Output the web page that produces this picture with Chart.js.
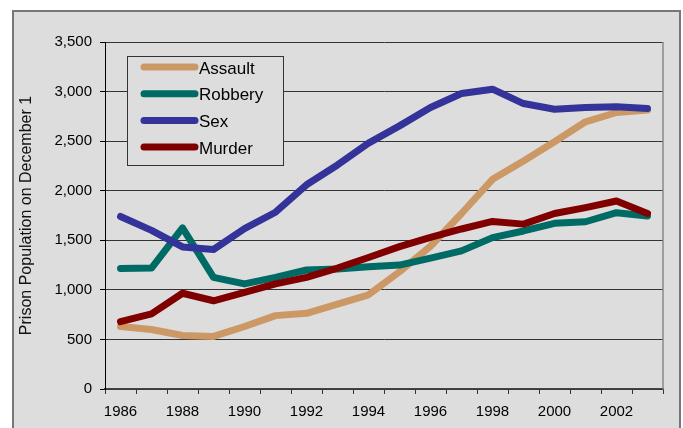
<!DOCTYPE html>
<html>
<head>
<meta charset="utf-8">
<script src="https://cdn.jsdelivr.net/npm/chart.js@4/dist/chart.umd.min.js"></script>
<style>
  body { margin: 0; background: #fff; }
  #frame {
    position: absolute; left: 12px; top: 10px;
    width: 665px; height: 440px;
    border: 2px solid #777; background: #dddddd;
  }
  #chart { position: absolute; left: 0; top: 0; }
</style>
</head>
<body>
<div id="frame"></div>
<canvas id="chart" width="683" height="428"></canvas>
<script>
// ===== DATA =====
const years = ["1986", "1987", "1988", "1989", "1990", "1991", "1992", "1993", "1994",
               "1995", "1996", "1997", "1998", "1999", "2000", "2001", "2002", "2003"];
const assault = [630, 600, 540, 530, 630, 740, 763, 857, 950, 1183, 1440, 1770, 2115, 2300, 2494, 2695, 2789, 2813];
const robbery = [1216, 1220, 1625, 1126, 1060, 1126, 1200, 1210, 1233, 1250, 1320, 1393, 1527, 1594, 1671, 1687, 1778, 1745];
const sex = [1740, 1600, 1433, 1407, 1617, 1783, 2060, 2260, 2480, 2654, 2839, 2980, 3024, 2879, 2822, 2839, 2846, 2829];
const murder = [680, 757, 966, 890, 975, 1060, 1126, 1220, 1326, 1436, 1530, 1614, 1690, 1663, 1770, 1830, 1896, 1770];
const yTicks = [0, 500, 1000, 1500, 2000, 2500, 3000, 3500];

const FONT = "'Liberation Sans', Arial, sans-serif";

function series(label, values, color, order) {
  return {
    label: label,
    data: values,
    borderColor: color,
    backgroundColor: color,
    borderWidth: 7,
    borderCapStyle: "round",
    borderJoinStyle: "round",
    pointRadius: 0,
    tension: 0,
    order: order
  };
}

// ===== PLUGINS =====
// right frame line of the plot area
const rightBorder = {
  id: "rightBorder",
  afterDraw(chart) {
    const a = chart.chartArea, c = chart.ctx;
    c.save();
    c.strokeStyle = "#888";
    c.lineWidth = 1.5;
    c.beginPath();
    c.moveTo(a.right, a.top);
    c.lineTo(a.right, a.bottom);
    c.stroke();
    c.restore();
  }
};

// boxed legend inside the plot
const boxLegend = {
  id: "boxLegend",
  afterDraw(chart) {
    const c = chart.ctx;
    const sets = chart.data.datasets;
    c.save();
    c.fillStyle = "#dddddd";
    c.fillRect(127, 56, 156, 109);
    c.strokeStyle = "#333";
    c.lineWidth = 1;
    c.strokeRect(127.5, 56.5, 156, 109);
    c.font = "17px " + FONT;
    c.textBaseline = "middle";
    sets.forEach((ds, i) => {
      const y = 67 + i * 26.7;
      c.strokeStyle = ds.borderColor;
      c.lineWidth = 7;
      c.lineCap = "round";
      c.beginPath();
      c.moveTo(144, y);
      c.lineTo(195, y);
      c.stroke();
      c.fillStyle = "#000";
      c.fillText(ds.label, 199, y + 2);
    });
    c.restore();
  }
};

// ===== CHART =====
const chart = new Chart(document.getElementById("chart"), {
  type: "line",
  data: {
    labels: years,
    datasets: [
      series("Assault", assault, "#cc9966", 4),
      series("Robbery", robbery, "#006a64", 3),
      series("Sex", sex, "#333399", 2),
      series("Murder", murder, "#800000", 1)
    ]
  },
  options: {
    responsive: false,
    animation: false,
    layout: { padding: { left: 0, top: 42, right: 20, bottom: 0 } },
    plugins: {
      legend: { display: false },
      tooltip: { enabled: false }
    },
    scales: {
      x: {
        type: "category",
        offset: true,
        afterFit(s) { s.height = 39; },
        grid: {
          offset: true,
          drawOnChartArea: false,
          drawTicks: true,
          tickLength: 5,
          tickColor: "#333"
        },
        border: { color: "#444", width: 1.5 },
        ticks: {
          autoSkip: false,
          maxRotation: 0,
          padding: 9,
          color: "#000",
          font: { family: FONT, size: 15 },
          callback: function (val, i) { return i % 2 === 0 ? this.getLabelForValue(val) : ""; }
        }
      },
      y: {
        min: 0,
        max: 3500,
        afterFit(s) { s.width = 105; },
        afterBuildTicks(s) { s.ticks = yTicks.map(v => ({ value: v })); },
        grid: {
          color: "#333",
          lineWidth: 1,
          borderDash: [8, 5],
          tickColor: "#000",
          tickLength: 5,
          tickBorderDash: []
        },
        border: { color: "#000", width: 1 },
        title: {
          display: true,
          text: "Prison Population on December 1",
          color: "#111",
          font: { family: FONT, size: 16 },
          padding: { top: 17, bottom: 0 }
        },
        ticks: {
          padding: 8,
          color: "#000",
          font: { family: FONT, size: 15 },
          callback: v => v.toLocaleString("en-US")
        }
      }
    }
  },
  plugins: [rightBorder, boxLegend]
});
</script>
</body>
</html>
